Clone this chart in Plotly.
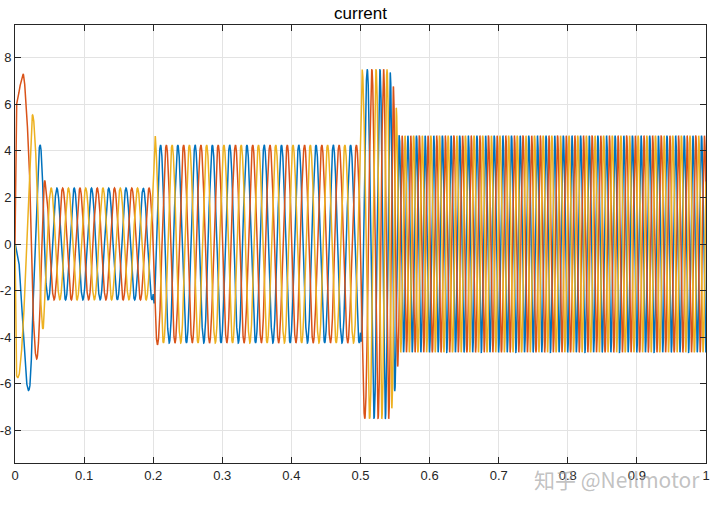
import numpy as np
import plotly.graph_objects as go

# ---- values ----
# startup: electrical angle (in units of pi) at the observed extremes
start_t = [0.0, 0.006, 0.012, 0.021, 0.026, 0.032, 0.037, 0.041, 0.044]
start_theta_pi = [1.0, 1.04, 7/6, 3/2, 11/6, 13/6, 5/2, 17/6, 19/6]

# electrical frequency after startup (Hz)
freq_t = [0.044, 0.5, 0.553, 1.0]
freq_hz = [40.0, 40.0, 80.0, 80.0]

# current amplitude envelope (A)
env_t = [0.0, 0.0015, 0.004, 0.012, 0.021, 0.026, 0.032, 0.037, 0.041, 0.044, 0.048,
         0.2, 0.2015, 0.203, 0.207, 0.5, 0.5025, 0.542, 0.548, 0.552, 0.556, 1.0]
env_a = [0.0, 6.6, 7.0, 7.3, 6.2, 5.5, 4.9, 4.2, 3.6, 2.55, 2.4,
         2.4, 3.8, 4.7, 4.25, 4.25, 7.5, 7.5, 6.7, 5.8, 4.65, 4.65]

phase_names = ["ia", "ib", "ic"]
phase_shift = [0.0, -2 * np.pi / 3, 2 * np.pi / 3]
colors = ["#0072BD", "#D95319", "#EDB120"]

x_ticks = [0, 0.1, 0.2, 0.3, 0.4, 0.5, 0.6, 0.7, 0.8, 0.9, 1]
y_ticks = [-8, -6, -4, -2, 0, 2, 4, 6, 8]

# ---- build the waveforms ----
dt = 5e-5
t = np.arange(0, 1 + dt / 2, dt)
theta = np.empty_like(t)
m = t <= start_t[-1]
theta[m] = np.interp(t[m], start_t, start_theta_pi) * np.pi
f = np.interp(t, freq_t, freq_hz)
idx0 = np.where(~m)[0][0]
th0 = start_theta_pi[-1] * np.pi
acc = th0 + np.cumsum(2 * np.pi * f[idx0:] * dt) - 2 * np.pi * f[idx0] * dt
acc += 2 * np.pi * f[idx0] * (t[idx0] - start_t[-1])
theta[idx0:] = acc
amp = np.interp(t, env_t, env_a)

fig = go.Figure()
for name, sh, c in zip(phase_names, phase_shift, colors):
    fig.add_trace(go.Scatter(x=t, y=amp * np.sin(theta + sh), mode="lines",
                             line=dict(color=c, width=1.5), name=name,
                             showlegend=False, hoverinfo="skip"))

axis_common = dict(showline=True, linecolor="#262626", linewidth=1, mirror="allticks",
                   ticks="inside", ticklen=6, tickcolor="#262626",
                   showgrid=True, gridcolor="#e3e3e3", gridwidth=1,
                   zeroline=False, automargin=False,
                   tickfont=dict(family="Liberation Sans, Arial", size=13, color="#262626"))

fig.update_xaxes(range=[0, 1], tickvals=x_ticks, ticktext=[str(v) for v in x_ticks],
                 **axis_common)
fig.update_yaxes(range=[-9.4, 9.4], tickvals=y_ticks, ticktext=[str(v) for v in y_ticks],
                 ticklabelstandoff=0, **axis_common)

fig.update_layout(
    width=720, height=509,
    margin=dict(l=15, r=14, t=25, b=46),
    paper_bgcolor="white", plot_bgcolor="white",
    hovermode=False,
    title=dict(text="current", x=0.5, xref="paper", xanchor="center",
               y=1 - 13 / 509, yref="container", yanchor="middle",
               font=dict(family="Liberation Sans, Arial", size=17, color="black")),
)

fig.add_annotation(text="知乎 @Neilmotor", xref="paper", yref="paper",
                   x=(617 - 15) / 691, y=-(479 - 463) / 438, xanchor="center", yanchor="middle",
                   showarrow=False,
                   font=dict(family="Noto Sans CJK SC, Liberation Sans", size=21,
                             color="rgba(160,160,160,0.65)"))

fig.write_html("out.html", config={"displayModeBar": False},
               post_script="document.body.style.margin='0';document.body.style.overflow='hidden';")
